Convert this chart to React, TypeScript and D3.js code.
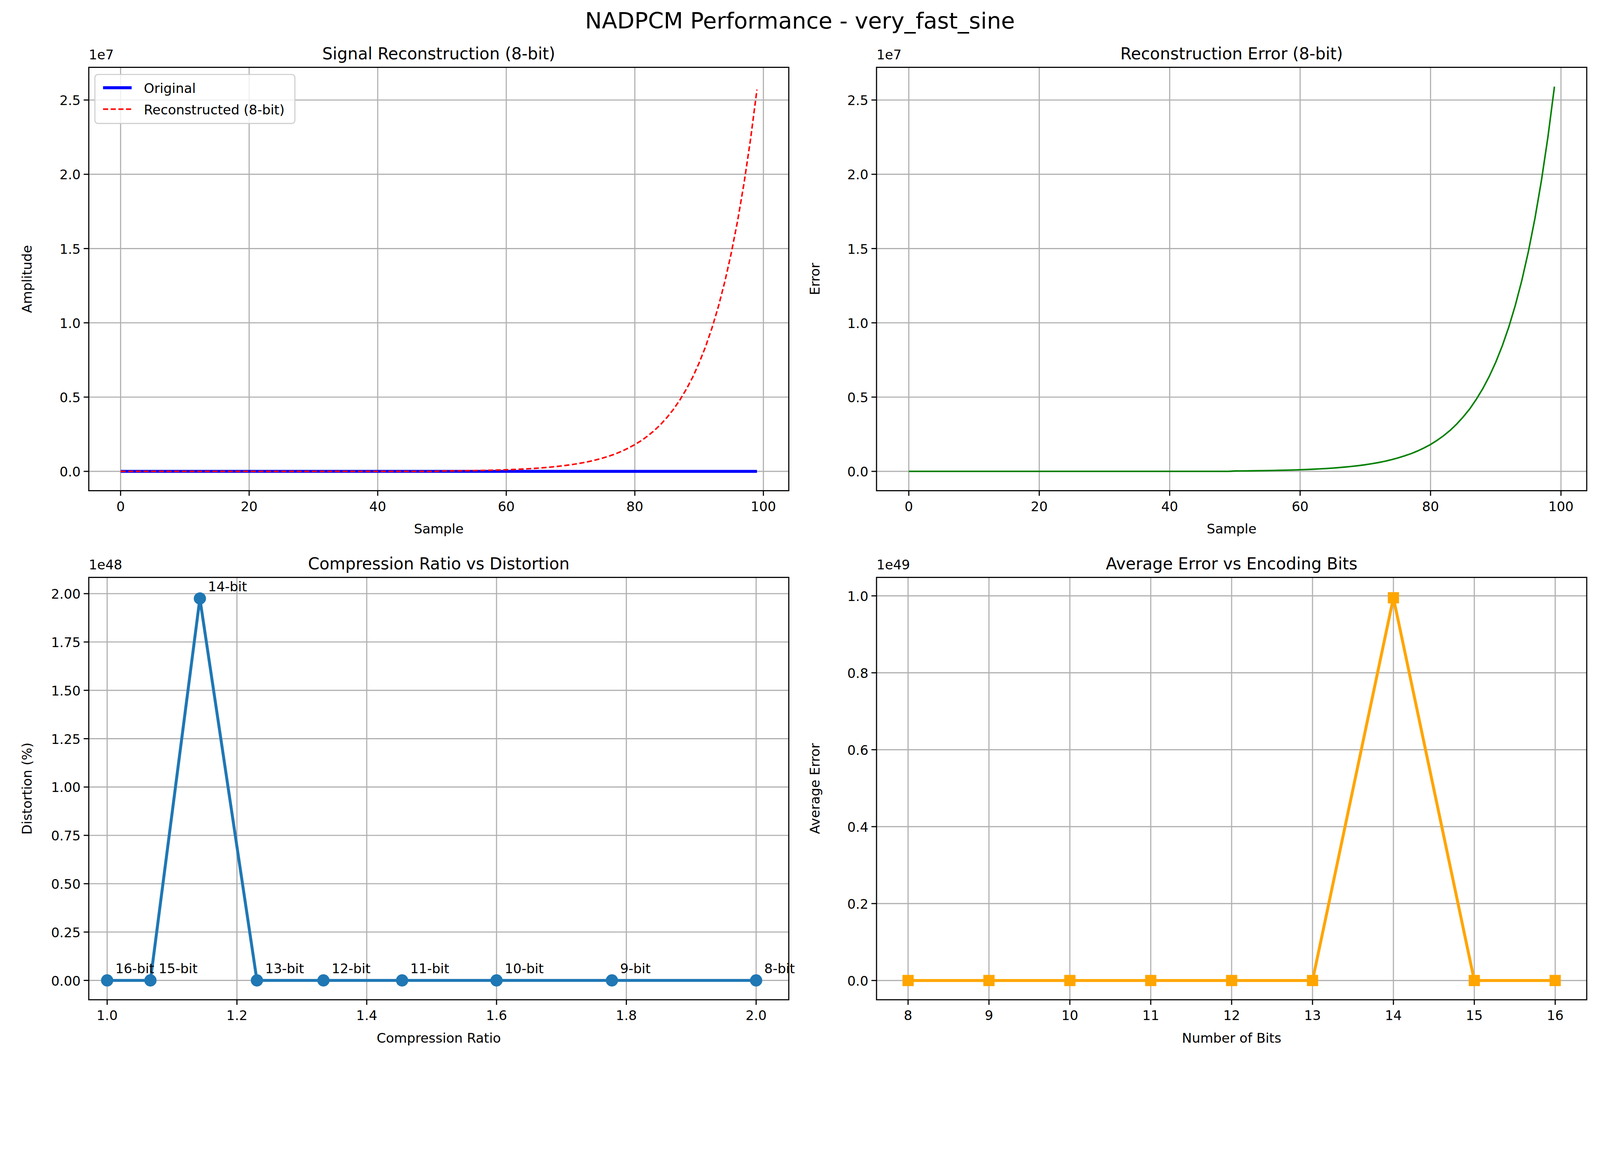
import React from 'react';
import * as d3 from 'd3';

// values in units of 1e7, samples 50..99 (earlier samples are ~0)
const reconTail = [
  0.0027, 0.0031, 0.0036, 0.0041, 0.0048, 0.0055, 0.0063, 0.0072, 0.0083, 0.0096,
  0.011, 0.0127, 0.0145, 0.0167, 0.0192, 0.0221, 0.0254, 0.0293, 0.0337, 0.0387,
  0.0445, 0.0512, 0.0589, 0.0677, 0.0779, 0.0896, 0.103, 0.118, 0.136, 0.157,
  0.18, 0.207, 0.238, 0.274, 0.315, 0.363, 0.417, 0.48, 0.552, 0.634,
  0.73, 0.839, 0.965, 1.11, 1.277, 1.469, 1.689, 1.943, 2.235, 2.57,
];
const errorTail = [
  0.0027, 0.0031, 0.0036, 0.0041, 0.0048, 0.0055, 0.0063, 0.0072, 0.0083, 0.0096,
  0.011, 0.0128, 0.0146, 0.0168, 0.0193, 0.0222, 0.0256, 0.0295, 0.0339, 0.039,
  0.0448, 0.0516, 0.0593, 0.0682, 0.0785, 0.0903, 0.104, 0.119, 0.137, 0.158,
  0.181, 0.209, 0.24, 0.276, 0.318, 0.366, 0.42, 0.484, 0.556, 0.639,
  0.735, 0.845, 0.972, 1.118, 1.286, 1.479, 1.701, 1.957, 2.251, 2.59,
];
const bits = [16, 15, 14, 13, 12, 11, 10, 9, 8];
const compression = [1.0, 1.0667, 1.1429, 1.2308, 1.3333, 1.4545, 1.6, 1.7778, 2.0];
const distortion = [0, 0, 1.975, 0, 0, 0, 0, 0, 0]; // 1e48
const bitsAsc = [8, 9, 10, 11, 12, 13, 14, 15, 16];
const avgError = [0, 0, 0, 0, 0, 0, 0.995, 0, 0]; // 1e49

const samples = d3.range(100);
const original = samples.map(() => 0);
const recon = samples.map((i) => (i < 50 ? 0 : reconTail[i - 50]));
const errs = samples.map((i) => (i < 50 ? 0 : errorTail[i - 50]));

const FONT = 'DejaVu Sans, sans-serif';

type Pt = [number, number];
type Series = { pts: Pt[]; color: string; width: number; dash?: string; marker?: 'circle' | 'square' };

function Panel(props: {
  x0: number; x1: number; y0: number; y1: number;
  xd: [number, number]; yd: [number, number];
  xticks: number[]; yticks: number[]; xfmt: (v: number) => string; yfmt: (v: number) => string;
  title: string; xlabel: string; ylabel: string; exp: string;
  series: Series[]; labels?: { p: Pt; t: string }[]; legend?: boolean;
}) {
  const x = d3.scaleLinear(props.xd, [props.x0, props.x1]);
  const y = d3.scaleLinear(props.yd, [props.y1, props.y0]);
  const line = d3.line<Pt>().x((d) => x(d[0])).y((d) => y(d[1]));
  const { x0, x1, y0, y1 } = props;
  return (
    <g fontFamily={FONT} fill="#000">
      {props.xticks.map((t) => (
        <g key={'x' + t}>
          <line x1={x(t)} x2={x(t)} y1={y0} y2={y1} stroke="#b0b0b0" strokeWidth={1.1} />
          <line x1={x(t)} x2={x(t)} y1={y1} y2={y1 + 5} stroke="#000" strokeWidth={1.1} />
          <text x={x(t)} y={y1 + 20} fontSize={13} textAnchor="middle">{props.xfmt(t)}</text>
        </g>
      ))}
      {props.yticks.map((t) => (
        <g key={'y' + t}>
          <line x1={x0} x2={x1} y1={y(t)} y2={y(t)} stroke="#b0b0b0" strokeWidth={1.1} />
          <line x1={x0 - 5} x2={x0} y1={y(t)} y2={y(t)} stroke="#000" strokeWidth={1.1} />
          <text x={x0 - 8} y={y(t) + 5} fontSize={13} textAnchor="end">{props.yfmt(t)}</text>
        </g>
      ))}
      <defs>
        <clipPath id={'c' + x0 + y0}>
          <rect x={x0} y={y0} width={x1 - x0} height={y1 - y0} />
        </clipPath>
      </defs>
      <g clipPath={`url(#c${x0}${y0})`}>
        {props.series.map((s, i) => (
          <g key={i}>
            <path d={line(s.pts) ?? ''} fill="none" stroke={s.color} strokeWidth={s.width} strokeDasharray={s.dash} />
            {s.marker === 'circle' && s.pts.map((p, j) => <circle key={j} cx={x(p[0])} cy={y(p[1])} r={6} fill={s.color} />)}
            {s.marker === 'square' && s.pts.map((p, j) => <rect key={j} x={x(p[0]) - 5.5} y={y(p[1]) - 5.5} width={11} height={11} fill={s.color} />)}
          </g>
        ))}
      </g>
      {props.labels?.map((l, i) => (
        <text key={i} x={x(l.p[0]) + 8} y={y(l.p[1]) - 7} fontSize={13}>{l.t}</text>
      ))}
      <rect x={x0} y={y0} width={x1 - x0} height={y1 - y0} fill="none" stroke="#000" strokeWidth={1.1} />
      <text x={(x0 + x1) / 2} y={y0 - 8} fontSize={16} textAnchor="middle">{props.title}</text>
      <text x={(x0 + x1) / 2} y={y1 + 42} fontSize={13} textAnchor="middle">{props.xlabel}</text>
      <text transform={`translate(${x0 - 56},${(y0 + y1) / 2}) rotate(-90)`} fontSize={13} textAnchor="middle">{props.ylabel}</text>
      <text x={x0} y={y0 - 8} fontSize={13}>{props.exp}</text>
      {props.legend && (
        <g>
          <rect x={x0 + 6} y={y0 + 7} width={196} height={48} fill="#fff" fillOpacity={0.8} stroke="#ccc" rx={3} />
          <line x1={x0 + 14} x2={x0 + 42} y1={y0 + 20} y2={y0 + 20} stroke="blue" strokeWidth={2.9} />
          <text x={x0 + 54} y={y0 + 25} fontSize={13}>Original</text>
          <line x1={x0 + 14} x2={x0 + 42} y1={y0 + 41} y2={y0 + 41} stroke="red" strokeWidth={1.5} strokeDasharray="5,2.5" />
          <text x={x0 + 54} y={y0 + 46} fontSize={13}>Reconstructed (8-bit)</text>
        </g>
      )}
    </g>
  );
}

export default function App() {
  const f1 = (v: number) => v.toFixed(1);
  const f2 = (v: number) => v.toFixed(2);
  const fi = (v: number) => String(v);
  return (
    <svg viewBox="0 0 1568 1037" preserveAspectRatio="xMinYMin meet"
      style={{ position: 'absolute', left: 0, top: 0, width: '100vw', height: 'auto', display: 'block', background: '#fff' }}>
      <rect width={1568} height={1037} fill="#fff" />
      <text x={784} y={28} fontSize={22} textAnchor="middle" fontFamily={FONT}>NADPCM Performance - very_fast_sine</text>
      <Panel x0={87} x1={773} y0={66} y1={481} xd={[-4.95, 103.95]} yd={[-0.13, 2.72]}
        xticks={[0, 20, 40, 60, 80, 100]} yticks={[0, 0.5, 1, 1.5, 2, 2.5]} xfmt={fi} yfmt={f1}
        title="Signal Reconstruction (8-bit)" xlabel="Sample" ylabel="Amplitude" exp="1e7" legend
        series={[
          { pts: samples.map((i) => [i, original[i]] as Pt), color: 'blue', width: 2.9 },
          { pts: samples.map((i) => [i, recon[i]] as Pt), color: 'red', width: 1.5, dash: '5,2.5' },
        ]} />
      <Panel x0={859} x1={1555} y0={66} y1={481} xd={[-4.95, 103.95]} yd={[-0.13, 2.72]}
        xticks={[0, 20, 40, 60, 80, 100]} yticks={[0, 0.5, 1, 1.5, 2, 2.5]} xfmt={fi} yfmt={f1}
        title="Reconstruction Error (8-bit)" xlabel="Sample" ylabel="Error" exp="1e7"
        series={[{ pts: samples.map((i) => [i, errs[i]] as Pt), color: 'green', width: 1.5 }]} />
      <Panel x0={87} x1={773} y0={566} y1={980} xd={[0.9717, 2.0503]} yd={[-0.1, 2.084]}
        xticks={[1, 1.2, 1.4, 1.6, 1.8, 2]} yticks={[0, 0.25, 0.5, 0.75, 1, 1.25, 1.5, 1.75, 2]} xfmt={f1} yfmt={f2}
        title="Compression Ratio vs Distortion" xlabel="Compression Ratio" ylabel="Distortion (%)" exp="1e48"
        series={[{ pts: compression.map((c, i) => [c, distortion[i]] as Pt), color: '#1f77b4', width: 2.9, marker: 'circle' }]}
        labels={compression.map((c, i) => ({ p: [c, distortion[i]] as Pt, t: `${bits[i]}-bit` }))} />
      <Panel x0={859} x1={1555} y0={566} y1={980} xd={[7.61, 16.39]} yd={[-0.05, 1.048]}
        xticks={bitsAsc} yticks={[0, 0.2, 0.4, 0.6, 0.8, 1]} xfmt={fi} yfmt={f1}
        title="Average Error vs Encoding Bits" xlabel="Number of Bits" ylabel="Average Error" exp="1e49"
        series={[{ pts: bitsAsc.map((b, i) => [b, avgError[i]] as Pt), color: 'orange', width: 2.9, marker: 'square' }]} />
    </svg>
  );
}
